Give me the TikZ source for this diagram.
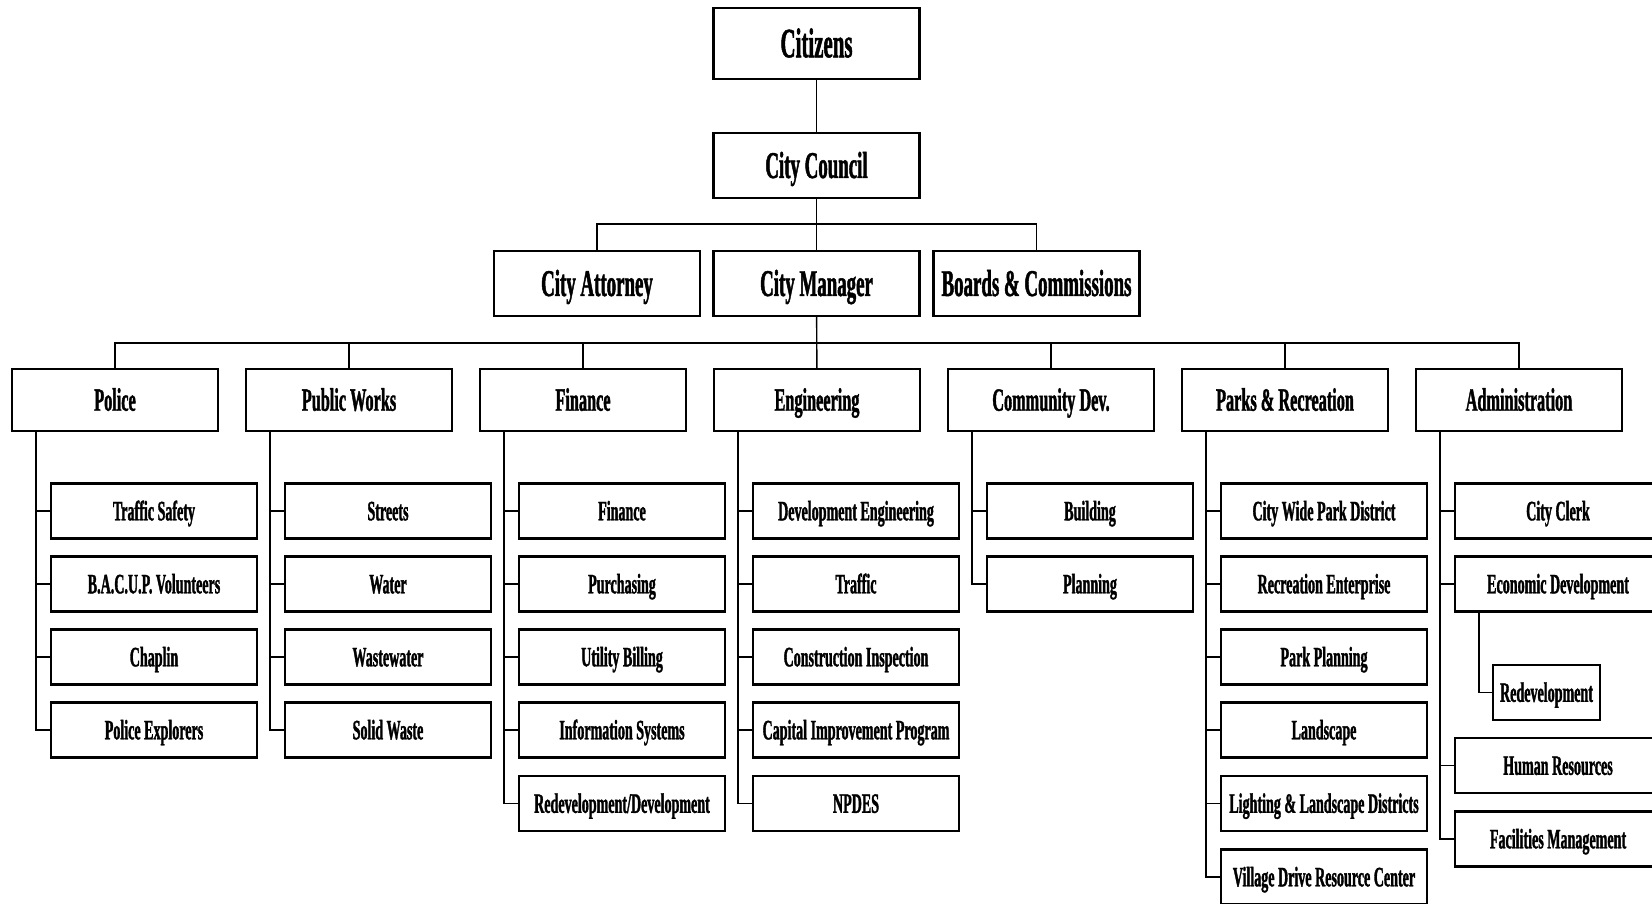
\documentclass[tikz,border=0pt]{standalone}
\usepackage{fontspec}
\setmainfont{Liberation Serif}[FakeStretch=0.5,FakeBold=1.2,BoldFeatures={FakeStretch=0.5,FakeBold=1.2}]
\usepackage{tikz}

\begin{document}
\begin{tikzpicture}[x=0.02cm,y=-0.02cm,
  box/.style={draw,line width=1.2pt,fill=white,inner sep=0pt,text depth=0pt,font=\bfseries},
  topbox/.style={box,minimum width=4.12cm,minimum height=1.3cm,text height=14.2pt,font=\fontsize{21.5}{24}\bfseries},
  deptbox/.style={box,minimum width=4.12cm,minimum height=1.24cm,text height=12.2pt,font=\fontsize{18.5}{20}\bfseries},
  unitbox/.style={box,minimum width=4.12cm,minimum height=1.1cm,text height=10.6pt,font=\fontsize{16}{18}\bfseries},
  link/.style={line width=0.8pt}]
\useasboundingbox (0,0) rectangle (1652,903);
\clip (0,0) rectangle (1652,903);

% top of the chart
\node[topbox,minimum height=1.42cm,text height=15.7pt,font=\fontsize{23.8}{26}\bfseries] (citizens) at (816.5,43.5) {Citizens};
\node[topbox] (council) at (816.5,165.5) {City Council};
\node[topbox] (attorney) at (597,283.5) {City Attorney};
\node[topbox] (manager) at (816.5,283.5) {City Manager};
\node[topbox] (boards) at (1036.5,283.5) {Boards \& Commissions};

\coordinate (bus1) at (816.5,224);
\coordinate (bus2) at (816.5,343);

\draw[link] (citizens) -- (council);
\draw[link] (council) -- (manager);
\draw[link] (attorney.north) |- (bus1) -| (boards.north);

% departments
\node[deptbox] (police) at (115,400) {Police};
\node[deptbox] (works) at (349,400) {Public Works};
\node[deptbox] (finance) at (583,400) {Finance};
\node[deptbox] (engineering) at (817,400) {Engineering};
\node[deptbox] (commdev) at (1051,400) {Community Dev.};
\node[deptbox] (parks) at (1285,400) {Parks \& Recreation};
\node[deptbox] (admin) at (1519,400) {Administration};

\draw[link] (manager) -- (engineering);
\draw[link] (police.north) |- (bus2) -| (admin.north);
\draw[link] (works.north) -- (works.north |- bus2);
\draw[link] (finance.north) -- (finance.north |- bus2);
\draw[link] (commdev.north) -- (commdev.north |- bus2);
\draw[link] (parks.north) -- (parks.north |- bus2);

% police
\node[unitbox] (pol1) at (154,511) {Traffic Safety};
\node[unitbox] (pol2) at (154,584) {B.A.C.U.P. Volunteers};
\node[unitbox] (pol3) at (154,657) {Chaplin};
\node[unitbox] (pol4) at (154,730) {Police Explorers};
\draw[link] (police.south west) ++(25,0) |- (pol4.west);
\draw[link] (pol1.west) -- ++(-14,0);
\draw[link] (pol2.west) -- ++(-14,0);
\draw[link] (pol3.west) -- ++(-14,0);

% public works
\node[unitbox] (pw1) at (388,511) {Streets};
\node[unitbox] (pw2) at (388,584) {Water};
\node[unitbox] (pw3) at (388,657) {Wastewater};
\node[unitbox] (pw4) at (388,730) {Solid Waste};
\draw[link] (works.south west) ++(25,0) |- (pw4.west);
\draw[link] (pw1.west) -- ++(-14,0);
\draw[link] (pw2.west) -- ++(-14,0);
\draw[link] (pw3.west) -- ++(-14,0);

% finance
\node[unitbox] (fin1) at (622,511) {Finance};
\node[unitbox] (fin2) at (622,584) {Purchasing};
\node[unitbox] (fin3) at (622,657) {Utility Billing};
\node[unitbox] (fin4) at (622,730) {Information Systems};
\node[unitbox] (fin5) at (622,803.5) {Redevelopment/Development};
\draw[link] (finance.south west) ++(25,0) |- (fin5.west);
\draw[link] (fin1.west) -- ++(-14,0);
\draw[link] (fin2.west) -- ++(-14,0);
\draw[link] (fin3.west) -- ++(-14,0);
\draw[link] (fin4.west) -- ++(-14,0);

% engineering
\node[unitbox] (eng1) at (856,511) {Development Engineering};
\node[unitbox] (eng2) at (856,584) {Traffic};
\node[unitbox] (eng3) at (856,657) {Construction Inspection};
\node[unitbox] (eng4) at (856,730) {Capital Improvement Program};
\node[unitbox] (eng5) at (856,803.5) {NPDES};
\draw[link] (engineering.south west) ++(25,0) |- (eng5.west);
\draw[link] (eng1.west) -- ++(-14,0);
\draw[link] (eng2.west) -- ++(-14,0);
\draw[link] (eng3.west) -- ++(-14,0);
\draw[link] (eng4.west) -- ++(-14,0);

% community development
\node[unitbox] (cd1) at (1090,511) {Building};
\node[unitbox] (cd2) at (1090,584) {Planning};
\draw[link] (commdev.south west) ++(25,0) |- (cd2.west);
\draw[link] (cd1.west) -- ++(-14,0);

% parks and recreation
\node[unitbox] (pr1) at (1324,511) {City Wide Park District};
\node[unitbox] (pr2) at (1324,584) {Recreation Enterprise};
\node[unitbox] (pr3) at (1324,657) {Park Planning};
\node[unitbox] (pr4) at (1324,730) {Landscape};
\node[unitbox] (pr5) at (1324,803.5) {Lighting \& Landscape Districts};
\node[unitbox] (pr6) at (1324,877) {Village Drive Resource Center};
\draw[link] (parks.south west) ++(25,0) |- (pr6.west);
\draw[link] (pr1.west) -- ++(-14,0);
\draw[link] (pr2.west) -- ++(-14,0);
\draw[link] (pr3.west) -- ++(-14,0);
\draw[link] (pr4.west) -- ++(-14,0);
\draw[link] (pr5.west) -- ++(-14,0);

% administration
\node[unitbox] (adm1) at (1558,511) {City Clerk};
\node[unitbox] (adm2) at (1558,584) {Economic Development};
\node[unitbox,minimum width=2.14cm] (redev) at (1546.5,692.5) {Redevelopment};
\node[unitbox] (adm3) at (1558,765.5) {Human Resources};
\node[unitbox] (adm4) at (1558,839) {Facilities Management};
\draw[link] (admin.south west) ++(25,0) |- (adm4.west);
\draw[link] (adm1.west) -- ++(-14,0);
\draw[link] (adm2.west) -- ++(-14,0);
\draw[link] (adm3.west) -- ++(-14,0);
\draw[link] (adm2.south west) ++(25,0) |- (redev.west);
\end{tikzpicture}
\end{document}
